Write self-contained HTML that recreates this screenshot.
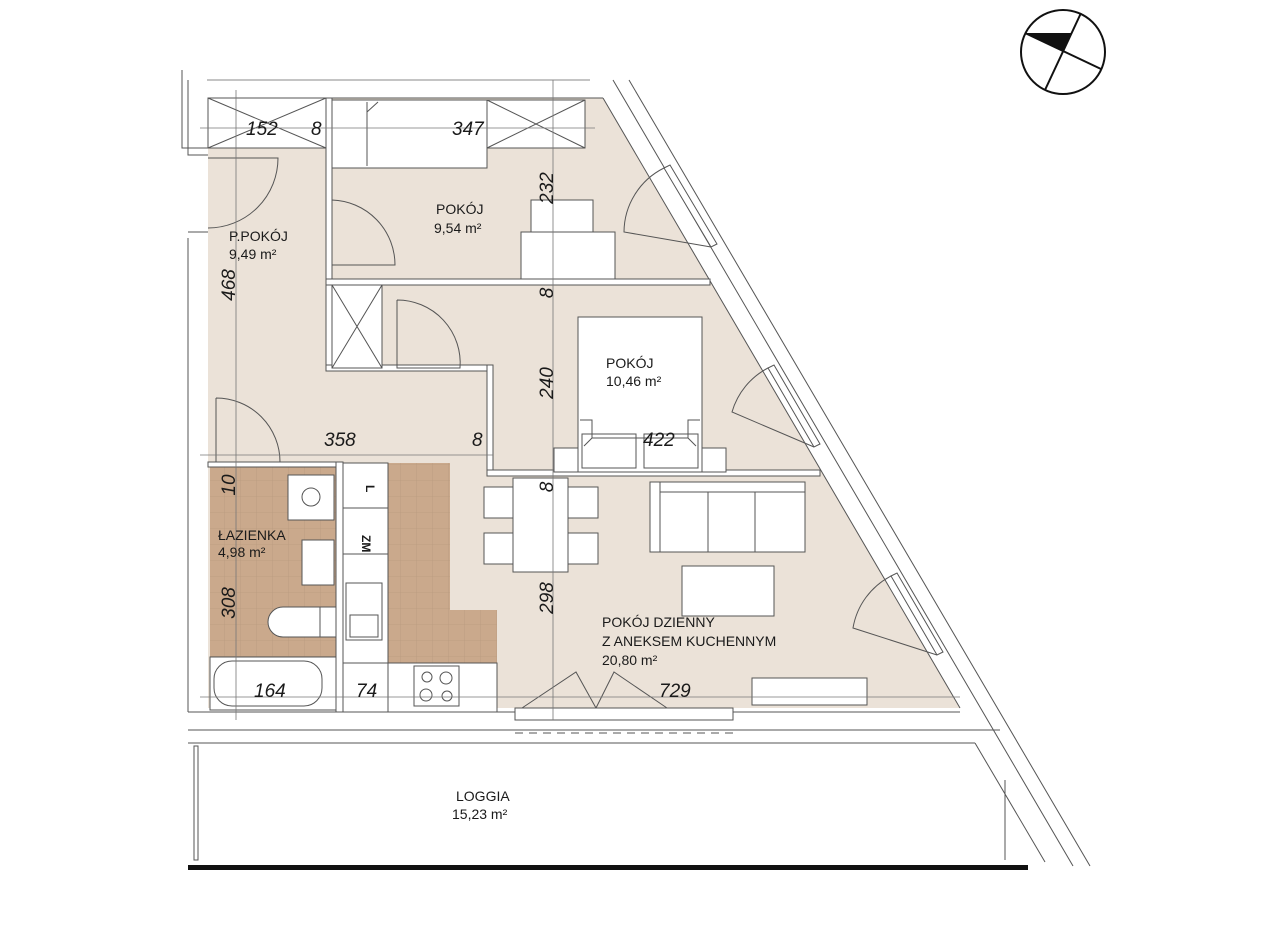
<!DOCTYPE html>
<html><head><meta charset="utf-8"><style>
html,body{margin:0;padding:0;background:#fff;}
svg{display:block;}
text{font-family:"Liberation Sans",sans-serif;fill:#1a1a1a;}
.d{font-size:19px;font-style:italic;}
.l{font-size:14px;}
</style></head><body>
<svg width="1279" height="948" viewBox="0 0 1279 948" xmlns="http://www.w3.org/2000/svg">
<defs>
<pattern id="tile" width="16" height="16" patternUnits="userSpaceOnUse">
<rect width="16" height="16" fill="#caa98c"/>
<path d="M0 0H16M0 0V16" stroke="#b99a7f" stroke-width="0.8"/>
</pattern>
</defs>
<!-- beige floor -->
<polygon points="208,98 603,98 960,708 208,708" fill="#ebe2d8"/>
<!-- tiles -->
<rect x="210" y="467" width="126" height="190" fill="url(#tile)"/>
<polygon points="388,463 450,463 450,610 497,610 497,663 388,663" fill="url(#tile)"/>
<g fill="none" stroke="#555" stroke-width="1">
<!-- outer left wall -->
<path d="M188,80V155H208M188,232H208M188,238V712"/>
<path d="M182,70V148H208"/>
<line x1="207" y1="80" x2="590" y2="80" stroke="#888"/>
<line x1="208" y1="98" x2="603" y2="98"/>
<!-- diagonal walls -->
<line x1="603" y1="98" x2="960" y2="708"/>
<line x1="613" y1="80" x2="1073" y2="866"/>
<line x1="629" y1="80" x2="1090" y2="866"/>
<!-- bottom walls -->
<line x1="188" y1="712" x2="960" y2="712"/>
<line x1="188" y1="730" x2="1000" y2="730"/>
<line x1="188" y1="743" x2="975" y2="743"/>
<line x1="975" y1="743" x2="1045" y2="862"/>
<line x1="1005" y1="780" x2="1005" y2="860"/>
<rect x="194" y="746" width="4" height="114"/>
<!-- interior walls -->
<rect x="326" y="98" width="6" height="272" fill="#fff"/>
<rect x="326" y="279" width="384" height="6" fill="#fff"/>
<rect x="326" y="365" width="167" height="6" fill="#fff"/>
<rect x="487" y="365" width="6" height="110" fill="#fff"/>
<rect x="487" y="470" width="333" height="6" fill="#fff"/>
<rect x="208" y="462" width="128" height="5" fill="#fff"/>
<rect x="336" y="462" width="7" height="250" fill="#fff"/>
<!-- wardrobes -->
<rect x="208" y="98" width="118" height="50" fill="#fff"/>
<path d="M208,98L326,148M326,98L208,148"/>
<rect x="332" y="100" width="155" height="68" fill="#fff"/>
<path d="M367,102V166M367,112L378,102"/>
<rect x="487" y="100" width="98" height="48" fill="#fff"/>
<path d="M487,100L585,148M585,100L487,148"/>
<rect x="332" y="285" width="50" height="83" fill="#fff"/>
<path d="M332,285L382,368M382,285L332,368"/>
<!-- doors -->
<path d="M208,158H278A70,70 0 0 1 208,228"/>
<path d="M332,200V265H395A65,65 0 0 0 332,200"/>
<path d="M397,300V368H460A63,63 0 0 0 397,300"/>
<path d="M216,398V462H280A64,64 0 0 0 216,398"/>
<!-- desk pok1 -->
<rect x="531" y="200" width="62" height="35" fill="#fff"/>
<rect x="521" y="232" width="94" height="47" fill="#fff"/>
<!-- bed -->
<rect x="578" y="317" width="124" height="155" fill="#fff"/>
<path d="M580,420H592V438L584,446 M700,420H688V438L696,446 M592,438H688"/>
<rect x="554" y="448" width="24" height="24" fill="#fff"/>
<rect x="702" y="448" width="24" height="24" fill="#fff"/>
<rect x="582" y="434" width="54" height="34"/><rect x="644" y="434" width="54" height="34"/>
<!-- dining -->
<rect x="513" y="478" width="55" height="94" fill="#fff"/>
<rect x="484" y="487" width="29" height="31" fill="#fff"/><rect x="484" y="533" width="29" height="31" fill="#fff"/>
<rect x="568" y="487" width="30" height="31" fill="#fff"/><rect x="568" y="533" width="30" height="31" fill="#fff"/>
<!-- sofa -->
<rect x="650" y="482" width="155" height="70" fill="#fff"/>
<path d="M660,482V552M660,492H805M708,492V552M755,492V552"/>
<rect x="682" y="566" width="92" height="50" fill="#fff"/>
<rect x="752" y="678" width="115" height="27" fill="#fff"/>
<!-- bathroom fixtures -->
<rect x="288" y="475" width="46" height="45" fill="#fff"/>
<circle cx="311" cy="497" r="9"/>
<rect x="302" y="540" width="32" height="45" fill="#fff"/>
<path d="M283,607H320V637H283A15,15 0 0 1 283,607Z" fill="#fff"/>
<rect x="320" y="607" width="16" height="30" fill="#fff"/>
<rect x="210" y="657" width="126" height="53" fill="#fff"/>
<rect x="214" y="661" width="108" height="45" rx="18"/>
<!-- kitchen -->
<rect x="343" y="463" width="45" height="45" fill="#fff"/>
<rect x="343" y="508" width="45" height="46" fill="#fff"/>
<rect x="343" y="554" width="45" height="109" fill="#fff"/>
<rect x="346" y="583" width="36" height="57"/>
<rect x="350" y="615" width="28" height="22"/>
<rect x="343" y="663" width="45" height="49" fill="#fff"/>
<rect x="388" y="663" width="109" height="49" fill="#fff"/>
<rect x="414" y="666" width="45" height="40"/>
<circle cx="427" cy="677" r="5"/><circle cx="446" cy="678" r="6"/><circle cx="426" cy="695" r="6"/><circle cx="447" cy="696" r="5"/>
<!-- balcony doors -->
<path d="M522,708L576,672L596,708M596,708L614,672L667,708"/>
<rect x="515" y="708" width="218" height="12" fill="#fff"/>
<path d="M515,733H733" stroke-dasharray="8,6"/>
<!-- windows diagonal -->
<g fill="#fff">
<polygon points="664,168 670,165 717,244 711,247"/>
<polygon points="768,368 774,365 820,444 814,447"/>
<polygon points="891,576 897,573 943,652 937,655"/>
</g>
<path d="M664,168 A72,72 0 0 0 624,232 L711,247"/>
<path d="M768,368 A72,72 0 0 0 732,412 L814,447"/>
<path d="M891,576 A72,72 0 0 0 853,628 L937,655"/>
</g>
<!-- dimension lines -->
<g stroke="#777" stroke-width="0.8" fill="none">
<line x1="200" y1="128" x2="595" y2="128"/>
<line x1="236" y1="90" x2="236" y2="720"/>
<line x1="200" y1="455" x2="493" y2="455"/>
<line x1="553" y1="80" x2="553" y2="720"/>
<line x1="200" y1="697" x2="960" y2="697"/>
</g>
<!-- loggia bottom -->
<rect x="188" y="865" width="840" height="5" fill="#111"/>
<!-- dimension labels -->
<g class="d">
<text x="246" y="135" class="d">152</text>
<text x="311" y="135" class="d">8</text>
<text x="452" y="135" class="d">347</text>
<text x="324" y="446" class="d">358</text>
<text x="472" y="446" class="d">8</text>
<text x="643" y="446" class="d">422</text>
<text x="254" y="697" class="d">164</text>
<text x="356" y="697" class="d">74</text>
<text x="659" y="697" class="d">729</text>
<text class="d" transform="translate(553,188) rotate(-90)" text-anchor="middle">232</text>
<text class="d" transform="translate(553,293) rotate(-90)" text-anchor="middle">8</text>
<text class="d" transform="translate(553,383) rotate(-90)" text-anchor="middle">240</text>
<text class="d" transform="translate(553,487) rotate(-90)" text-anchor="middle">8</text>
<text class="d" transform="translate(553,598) rotate(-90)" text-anchor="middle">298</text>
<text class="d" transform="translate(235,285) rotate(-90)" text-anchor="middle">468</text>
<text class="d" transform="translate(235,485) rotate(-90)" text-anchor="middle">10</text>
<text class="d" transform="translate(235,603) rotate(-90)" text-anchor="middle">308</text>
</g>
<g style="font-size:12px;font-weight:bold">
<text transform="translate(366,485) rotate(90)" style="font-size:12px">L</text>
<text transform="translate(362,535) rotate(90)" style="font-size:12px">ZM</text>
</g>
<!-- room labels -->
<g class="l">
<text x="436" y="214" class="l">POKÓJ</text>
<text x="434" y="233" class="l">9,54 m²</text>
<text x="229" y="241" class="l">P.POKÓJ</text>
<text x="229" y="259" class="l">9,49 m²</text>
<text x="606" y="368" class="l">POKÓJ</text>
<text x="606" y="386" class="l">10,46 m²</text>
<text x="218" y="540" class="l">ŁAZIENKA</text>
<text x="218" y="557" class="l">4,98 m²</text>
<text x="602" y="627" class="l">POKÓJ DZIENNY</text>
<text x="602" y="646" class="l">Z ANEKSEM KUCHENNYM</text>
<text x="602" y="665" class="l">20,80 m²</text>
<text x="456" y="801" class="l">LOGGIA</text>
<text x="452" y="819" class="l">15,23 m²</text>
</g>
<!-- compass -->
<g stroke="#111" stroke-width="2" fill="none">
<circle cx="1063" cy="52" r="42"/>
<line x1="1081" y1="13" x2="1045" y2="90"/>
<line x1="1025" y1="33" x2="1101" y2="69"/>
</g>
<polygon points="1026,33 1071,33 1063,51" fill="#111"/>
</svg>
</body></html>
